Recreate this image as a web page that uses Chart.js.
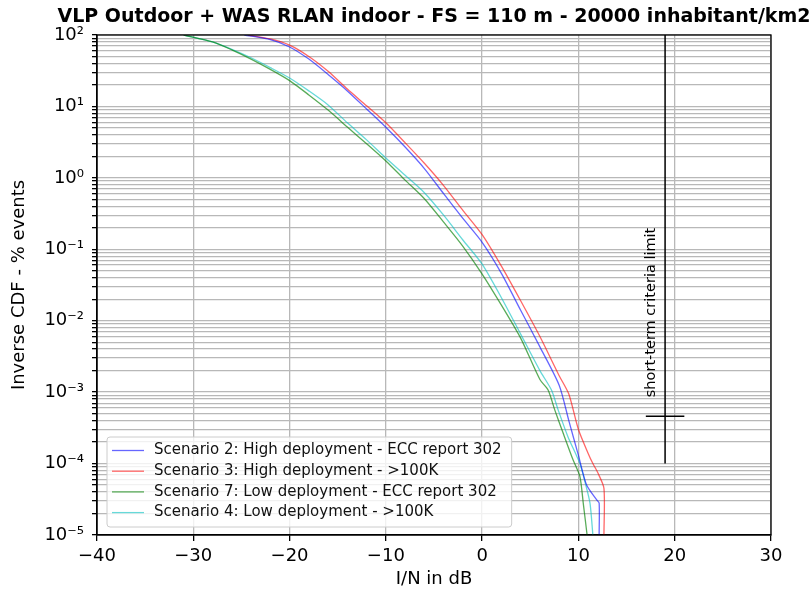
<!DOCTYPE html>
<html>
<head>
<meta charset="utf-8">
<script src="https://cdn.jsdelivr.net/npm/chart.js@4.4.1/dist/chart.umd.min.js"></script>
<style>
  body { margin: 0; background: #fff; }
  #wrap { width: 811px; height: 597px; }
</style>
</head>
<body>
<div id="wrap"><canvas id="cdfChart" width="811" height="597"></canvas></div>
<script>
// I/N (dB) vs inverse CDF (% events)
var s2X = [-24.7, -22, -20, -18, -16, -14, -12, -10, -8, -6, -4, -2, 0, 2, 4, 6, 8, 9, 10, 10.85, 11.9, 12.15, 12.15];
var s2Y = [100, 86, 68, 46, 28, 16.5, 9.2, 5.1, 2.7, 1.35, 0.6, 0.27, 0.125, 0.046, 0.014, 0.0043, 0.00125, 0.0004, 0.00013, 0.00005, 0.000031, 0.000028, 0.00001];

var s3X = [-24.3, -22, -20, -18, -16, -14, -12, -10, -8, -6, -4, -2, 0, 2, 4, 6, 8, 9, 10, 11, 11.5, 12, 12.65, 12.65];
var s3Y = [100, 88, 72, 50, 31, 17.5, 10.2, 5.9, 3.1, 1.6, 0.78, 0.35, 0.16, 0.058, 0.019, 0.006, 0.0017, 0.00094, 0.0003, 0.00014, 0.0001, 0.000075, 0.000045, 0.00001];

var s7X = [-31, -28, -26, -24, -22, -20, -18, -16, -14, -12, -10, -8, -6, -4, -2, 0, 2, 4, 6, 6.85, 7.55, 8.4, 9.45, 10.15, 10.5, 10.9];
var s7Y = [100, 80, 62, 46, 33, 23, 14.5, 8.9, 5.15, 3.0, 1.72, 0.93, 0.51, 0.24, 0.11, 0.045, 0.0165, 0.0057, 0.0015, 0.00107, 0.00056, 0.00027, 0.000112, 0.000066, 0.000028, 0.00001];

var s4X = [-31, -28, -26, -24, -22, -20, -18, -16, -14, -12, -10, -8, -6, -4, -2, 0, 2, 4, 6, 7.2, 7.9, 8.9, 10.15, 10.7, 11.2, 11.5];
var s4Y = [100, 80, 63, 48, 35, 25, 16.5, 10.5, 5.9, 3.4, 1.9, 1.09, 0.62, 0.30, 0.135, 0.062, 0.021, 0.0065, 0.002, 0.00107, 0.00056, 0.00024, 0.0001, 0.000054, 0.000028, 0.00001];

// short-term criteria limit marker
var limitX = [19, 19];
var limitY = [100, 0.0001];
var markX = [17, 21];
var markY = [0.00046, 0.00046];

var seriesLabels = [
    'Scenario 2: High deployment - ECC report 302',
    'Scenario 3: High deployment - >100K',
    'Scenario 7: Low deployment - ECC report 302',
    'Scenario 4: Low deployment - >100K'
];
var seriesColors = ['rgba(0,0,255,0.6)', 'rgba(255,0,0,0.6)', 'rgba(0,128,0,0.65)', 'rgba(0,191,191,0.6)'];

var xTicks = [-40, -30, -20, -10, 0, 10, 20, 30];
var yDecades = [-5, -4, -3, -2, -1, 0, 1, 2];
var yTickLabels = ['10\u207B\u2075', '10\u207B\u2074', '10\u207B\u00B3', '10\u207B\u00B2', '10\u207B\u00B9', '10\u2070', '10\u00B9', '10\u00B2'];

var titleText = 'VLP Outdoor + WAS RLAN indoor - FS = 110 m - 20000 inhabitant/km2';
var limitText = 'short-term criteria limit';
var FONT = "'DejaVu Sans', sans-serif";

function pts(xs, ys) {
    return xs.map(function (x, i) { return { x: x, y: ys[i] }; });
}

function curve(i, xs, ys) {
    return {
        label: seriesLabels[i],
        data: pts(xs, ys),
        borderColor: seriesColors[i],
        borderWidth: 1.3,
        pointRadius: 0,
        tension: 0.25,
        fill: false
    };
}

// white background, frame, title, limit text and the in-plot legend
var extras = {
    id: 'extras',
    beforeDraw: function (chart) {
        var ctx = chart.ctx;
        ctx.save();
        ctx.fillStyle = '#fff';
        ctx.fillRect(0, 0, chart.width, chart.height);
        ctx.restore();
    },
    afterDraw: function (chart) {
        var ctx = chart.ctx, ca = chart.chartArea;
        var xs = chart.scales.x, ys = chart.scales.y;
        ctx.save();

        // frame
        ctx.strokeStyle = '#000';
        ctx.lineWidth = 1.3;
        ctx.strokeRect(ca.left, ca.top, ca.right - ca.left, ca.bottom - ca.top);

        // title
        ctx.fillStyle = '#000';
        ctx.font = 'bold 19px ' + FONT;
        ctx.textAlign = 'center';
        ctx.textBaseline = 'middle';
        ctx.fillText(titleText, (ca.left + ca.right) / 2, 17);

        // rotated label next to the limit line
        ctx.save();
        ctx.translate(xs.getPixelForValue(18.3), ys.getPixelForValue(0.00085));
        ctx.rotate(-Math.PI / 2);
        ctx.font = '14.5px ' + FONT;
        ctx.textAlign = 'left';
        ctx.textBaseline = 'bottom';
        ctx.fillText(limitText, 0, 0);
        ctx.restore();

        // legend
        ctx.font = '15px ' + FONT;
        var maxW = 0;
        seriesLabels.forEach(function (t) { maxW = Math.max(maxW, ctx.measureText(t).width); });
        var bx = ca.left + 10, bw = maxW + 57, bh = 90, by = ca.bottom - 8 - bh;
        ctx.beginPath();
        ctx.roundRect(bx, by, bw, bh, 3);
        ctx.fillStyle = 'rgba(255,255,255,0.8)';
        ctx.fill();
        ctx.strokeStyle = '#cccccc';
        ctx.lineWidth = 1;
        ctx.stroke();
        ctx.textAlign = 'left';
        ctx.textBaseline = 'middle';
        seriesLabels.forEach(function (t, i) {
            var y = by + 13.5 + i * 20.7;
            ctx.strokeStyle = seriesColors[i];
            ctx.lineWidth = 1.3;
            ctx.beginPath();
            ctx.moveTo(bx + 5, y);
            ctx.lineTo(bx + 37, y);
            ctx.stroke();
            ctx.fillStyle = '#111';
            ctx.fillText(t, bx + 47, y);
        });
        ctx.restore();
    }
};

var ctxCdf = document.getElementById('cdfChart').getContext('2d');
var cdfChart = new Chart(ctxCdf, {
    type: 'line',
    data: {
        datasets: [
            curve(0, s2X, s2Y),
            curve(1, s3X, s3Y),
            curve(2, s7X, s7Y),
            curve(3, s4X, s4Y),
            { label: 'limit', data: pts(limitX, limitY), borderColor: '#000', borderWidth: 1.5, pointRadius: 0 },
            { label: 'mark', data: pts(markX, markY), borderColor: '#000', borderWidth: 1.5, pointRadius: 0 }
        ]
    },
    options: {
        responsive: false,
        animation: false,
        devicePixelRatio: 1,
        layout: { padding: { left: 0, right: 40, top: 35, bottom: 0 } },
        plugins: {
            legend: { display: false },
            tooltip: { enabled: false }
        },
        scales: {
            x: {
                type: 'linear',
                min: -40,
                max: 30,
                afterFit: function (s) { s.height = 62; },
                afterBuildTicks: function (s) {
                    s.ticks = xTicks.map(function (v) { return { value: v }; });
                },
                ticks: {
                    color: '#000',
                    font: { family: FONT, size: 18 },
                    padding: 5,
                    maxRotation: 0,
                    autoSkip: false,
                    callback: function (v) { return v < 0 ? '\u2212' + (-v) : String(v); }
                },
                grid: { color: '#b8b8b8', lineWidth: 1.3, tickColor: '#000', tickLength: 6 },
                border: { display: true, color: '#000', width: 1.3 },
                title: {
                    display: true,
                    text: 'I/N in dB',
                    color: '#000',
                    font: { family: FONT, size: 18 },
                    padding: { top: 0, bottom: 7 }
                }
            },
            y: {
                type: 'logarithmic',
                min: 0.00001,
                max: 100,
                afterFit: function (s) { s.width = 97; },
                afterBuildTicks: function (s) {
                    var t = [];
                    yDecades.forEach(function (e, i) {
                        for (var m = 1; m <= 9; m++) {
                            if (i === yDecades.length - 1 && m > 1) break;
                            t.push({ value: m * Math.pow(10, e) });
                        }
                    });
                    s.ticks = t;
                },
                ticks: {
                    color: '#000',
                    font: { family: FONT, size: 18 },
                    padding: 8,
                    autoSkip: false,
                    callback: function (v) {
                        var e = Math.round(Math.log10(v));
                        if (Math.abs(v / Math.pow(10, e) - 1) > 1e-6) return '';
                        return yTickLabels[yDecades.indexOf(e)];
                    }
                },
                grid: { color: '#b8b8b8', lineWidth: 1.3, tickColor: '#000', tickLength: 5 },
                border: { display: true, color: '#000', width: 1.3 },
                title: {
                    display: true,
                    text: 'Inverse CDF - % events',
                    color: '#000',
                    font: { family: FONT, size: 18 },
                    padding: { top: 9, bottom: 0 }
                }
            }
        }
    },
    plugins: [extras]
});
</script>
</body>
</html>
